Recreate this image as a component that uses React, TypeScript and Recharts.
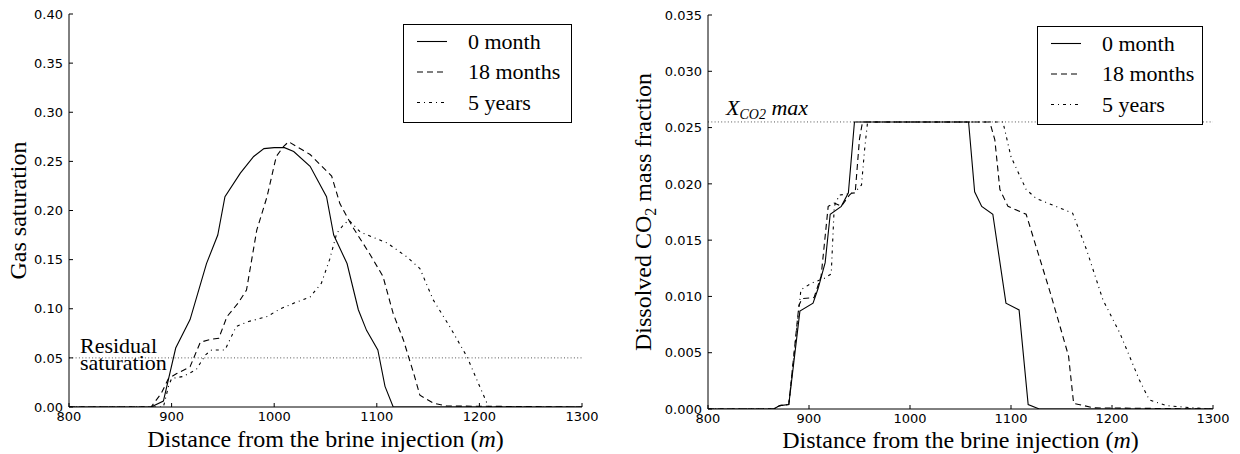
import { LineChart, Line, XAxis, YAxis, ReferenceLine, Legend } from "recharts";
import type { ReactNode } from "react";

// distance along the aquifer (m) and gas saturation, one pair per snapshot
const gasDist0 = [800, 880, 892, 904, 918, 934, 945, 952, 967, 980, 990, 1000, 1010, 1019, 1035, 1051, 1058, 1071, 1082, 1090, 1101, 1108, 1116, 1300];
const gasSat0 = [0, 0, 0.006, 0.06, 0.089, 0.146, 0.175, 0.214, 0.238, 0.255, 0.263, 0.264, 0.264, 0.26, 0.245, 0.214, 0.175, 0.146, 0.099, 0.078, 0.058, 0.021, 0, 0];

const gasDist18 = [800, 880, 890, 897, 905, 918, 928, 939, 946, 954, 965, 973, 983, 993, 1002, 1009, 1014, 1035, 1056, 1064, 1076, 1093, 1106, 1116, 1126, 1136, 1142, 1155, 1168, 1300];
const gasSat18 = [0, 0, 0.014, 0.029, 0.034, 0.041, 0.066, 0.069, 0.07, 0.092, 0.106, 0.119, 0.18, 0.214, 0.255, 0.265, 0.27, 0.257, 0.235, 0.207, 0.184, 0.156, 0.133, 0.095, 0.068, 0.034, 0.012, 0.004, 0.001, 0];

const gasDist60 = [800, 892, 897, 900, 911, 924, 933, 939, 952, 963, 975, 993, 1006, 1020, 1035, 1046, 1054, 1061, 1068, 1073, 1084, 1110, 1129, 1142, 1155, 1171, 1188, 1199, 1209, 1300];
const gasSat60 = [0, 0, 0.021, 0.029, 0.031, 0.038, 0.053, 0.058, 0.058, 0.082, 0.087, 0.092, 0.1, 0.106, 0.112, 0.126, 0.15, 0.177, 0.186, 0.19, 0.178, 0.167, 0.153, 0.141, 0.109, 0.082, 0.051, 0.024, 0, 0];

// dissolved CO2 mass fraction
const co2Dist0 = [800, 865, 871, 880, 891, 904, 909, 916, 921, 932, 939, 945, 1058, 1064, 1071, 1082, 1095, 1108, 1117, 1128, 1300];
const co2Frac0 = [0, 0, 0.0003, 0.0004, 0.0087, 0.0094, 0.0107, 0.013, 0.0173, 0.018, 0.0192, 0.0255, 0.0255, 0.0193, 0.018, 0.0173, 0.0094, 0.0088, 0.0004, 0, 0];

const co2Dist18 = [800, 865, 871, 880, 890, 893, 905, 912, 919, 925, 932, 940, 946, 950, 953, 1079, 1084, 1089, 1097, 1115, 1139, 1157, 1162, 1182, 1300];
const co2Frac18 = [0, 0, 0.0003, 0.0004, 0.0092, 0.0098, 0.0099, 0.0118, 0.018, 0.0183, 0.018, 0.019, 0.0195, 0.024, 0.0255, 0.0255, 0.0239, 0.0195, 0.018, 0.0173, 0.0103, 0.0047, 0.0005, 0.0001, 0];

const co2Dist60 = [800, 865, 871, 880, 892, 903, 915, 922, 925, 930, 945, 952, 955, 958, 1092, 1100, 1115, 1125, 1161, 1175, 1191, 1208, 1227, 1237, 1254, 1280, 1300];
const co2Frac60 = [0, 0, 0.0003, 0.0004, 0.0106, 0.0112, 0.0116, 0.012, 0.018, 0.019, 0.0192, 0.0199, 0.023, 0.0255, 0.0255, 0.0224, 0.0195, 0.0187, 0.0174, 0.0141, 0.0097, 0.0067, 0.0026, 0.0008, 0.0003, 0.0001, 0];

const xTicks = [800, 900, 1000, 1100, 1200, 1300];
const gasTicks = [0, 0.05, 0.1, 0.15, 0.2, 0.25, 0.3, 0.35, 0.4];
const co2Ticks = [0, 0.005, 0.01, 0.015, 0.02, 0.025, 0.03, 0.035];
const residualSaturation = 0.05;
const co2Max = 0.0255;
const seriesNames = ["0 month", "18 months", "5 years"];

const SERIF = "'Liberation Serif', 'Times New Roman', serif";
const SANS = "'DejaVu Sans', 'Liberation Sans', sans-serif";
const INK = "#000";
const TICK = 4;
const DASHES = [undefined, "6 4", "3 4 1 4"];

const serif = (size: number, italic = false) => ({ fontFamily: SERIF, fontSize: size, fontStyle: italic ? "italic" : "normal" });
const tickFont = { fontFamily: SANS, fontSize: 13 };

type Pt = { x: number; v: number };
const zip = (xs: number[], ys: number[]): Pt[] => xs.map((x, i) => ({ x, v: ys[i] }));

const gasSeries = [zip(gasDist0, gasSat0), zip(gasDist18, gasSat18), zip(gasDist60, gasSat60)];
const co2Series = [zip(co2Dist0, co2Frac0), zip(co2Dist18, co2Frac18), zip(co2Dist60, co2Frac60)];

// matplotlib-style ticks: short marks pointing into the plot on every side
const bottomTick = (p: any) => (
  <g>
    <line x1={p.x} y1={p.y} x2={p.x} y2={p.y - TICK} stroke={INK} />
    <text x={p.x} y={p.y + 14} textAnchor="middle" fill={INK} style={tickFont}>{p.payload.value}</text>
  </g>
);
const topTick = (p: any) => <line x1={p.x} y1={p.y} x2={p.x} y2={p.y + TICK} stroke={INK} />;
const rightTick = (p: any) => <line x1={p.x} y1={p.y} x2={p.x - TICK} y2={p.y} stroke={INK} />;
const leftTick = (digits: number) => (p: any) => (
  <g>
    <line x1={p.x} y1={p.y} x2={p.x + TICK} y2={p.y} stroke={INK} />
    <text x={p.x - 6} y={p.y} dy="0.36em" textAnchor="end" fill={INK} style={tickFont}>
      {Number(p.payload.value).toFixed(digits)}
    </text>
  </g>
);

function LegendBox({ width, height }: { width: number; height: number }) {
  return (
    <svg width={width} height={height} style={{ display: "block", fontFamily: SERIF }}>
      <rect x={0.5} y={0.5} width={width - 1} height={height - 1} fill="#fff" stroke={INK} />
      {seriesNames.map((name, i) => {
        const cy = 17.5 + i * 30.5;
        return (
          <g key={name}>
            <line x1={14} x2={44} y1={cy} y2={cy} stroke={INK} strokeWidth={1.1} strokeDasharray={DASHES[i]} />
            <text x={65} y={cy + 7} fill={INK} fontFamily={SERIF} fontSize={22} style={serif(22)}>{name}</text>
          </g>
        );
      })}
    </svg>
  );
}

interface PanelProps {
  series: Pt[][];
  yTicks: number[];
  digits: number;
  margin: { top: number; right: number; bottom: number; left: number };
  yAxisWidth: number;
  xAxisHeight: number;
  xLabelBaseline: number;
  yLabelBaseline: number;
  yLabel: ReactNode;
  refY: number;
  refLabel: (vb: any) => ReactNode;
  legend: { left: number; top: number; width: number; height: number };
}

function Panel(props: PanelProps) {
  const { series, yTicks, digits, margin, yAxisWidth, xAxisHeight, legend } = props;
  const yDomain = [yTicks[0], yTicks[yTicks.length - 1]];
  return (
    <LineChart width={620} height={454} margin={margin}>
      <XAxis
        dataKey="x" type="number" domain={[800, 1300]} ticks={xTicks} allowDataOverflow
        height={xAxisHeight} stroke={INK} tickLine={false} tickSize={0} tickMargin={0}
        tick={bottomTick}
        label={(lp: any) => {
          const vb = lp.viewBox;
          return (
            <text x={vb.x + vb.width / 2} y={vb.y + props.xLabelBaseline} textAnchor="middle" fill={INK} style={serif(24)}>
              Distance from the brine injection (<tspan style={serif(24, true)}>m</tspan>)
            </text>
          );
        }}
      />
      <XAxis
        xAxisId="top" orientation="top" dataKey="x" type="number" domain={[800, 1300]} ticks={xTicks}
        allowDataOverflow height={0} stroke={INK} tickLine={false} tickSize={0} tickMargin={0} tick={topTick}
      />
      <YAxis
        type="number" domain={yDomain} ticks={yTicks} allowDataOverflow width={yAxisWidth}
        stroke={INK} tickLine={false} tickSize={0} tickMargin={0} tick={leftTick(digits)}
        label={(lp: any) => {
          const vb = lp.viewBox;
          const cx = vb.x + props.yLabelBaseline;
          const cy = vb.y + vb.height / 2;
          return (
            <text x={cx} y={cy} transform={`rotate(-90 ${cx} ${cy})`} textAnchor="middle" fill={INK} style={serif(24)}>
              {props.yLabel}
            </text>
          );
        }}
      />
      <YAxis
        yAxisId="right" orientation="right" type="number" domain={yDomain} ticks={yTicks} allowDataOverflow
        width={0} stroke={INK} tickLine={false} tickSize={0} tickMargin={0} tick={rightTick}
      />
      <ReferenceLine y={props.refY} stroke="#555" strokeDasharray="1 2.3" label={(lp: any) => props.refLabel(lp.viewBox)} />
      {series.map((data, i) => (
        <Line
          key={seriesNames[i]} name={seriesNames[i]} data={data} dataKey="v" type="linear"
          stroke={INK} strokeWidth={1.1} strokeDasharray={DASHES[i]} dot={false} activeDot={false}
          isAnimationActive={false}
        />
      ))}
      <Legend
        layout="vertical" verticalAlign="middle" align="center"
        wrapperStyle={{ left: legend.left, top: legend.top, width: legend.width, height: legend.height, fontFamily: SERIF }}
        content={() => <LegendBox width={legend.width} height={legend.height} />}
      />
    </LineChart>
  );
}

export default function App() {
  return (
    <div style={{ position: "absolute", left: 0, top: 0, width: 1240, height: 454, background: "#fff", display: "flex" }}>
      <Panel
        series={gasSeries} yTicks={gasTicks} digits={2}
        margin={{ top: 14, right: 38, bottom: 0, left: 0 }} yAxisWidth={69} xAxisHeight={47}
        xLabelBaseline={40} yLabelBaseline={26}
        yLabel="Gas saturation"
        refY={residualSaturation}
        refLabel={(vb) => (
          <text x={vb.x + 11} y={vb.y - 5} fill={INK} style={serif(22)}>
            Residual
            <tspan x={vb.x + 11} dy={17}>saturation</tspan>
          </text>
        )}
        legend={{ left: 403, top: 24, width: 169, height: 99 }}
      />
      <Panel
        series={co2Series} yTicks={co2Ticks} digits={3}
        margin={{ top: 15, right: 27, bottom: 0, left: 0 }} yAxisWidth={88} xAxisHeight={45}
        xLabelBaseline={39} yLabelBaseline={31}
        yLabel={<>Dissolved CO<tspan style={{ fontSize: 16 }} dy={5}>2</tspan><tspan dy={-5}> mass fraction</tspan></>}
        refY={co2Max}
        refLabel={(vb) => (
          <text x={vb.x + 18} y={vb.y - 7} fill={INK} style={serif(22, true)}>
            X<tspan style={{ fontSize: 14 }} dy={4}>CO2</tspan><tspan dy={-4}> max</tspan>
          </text>
        )}
        legend={{ left: 417, top: 26, width: 166, height: 99 }}
      />
    </div>
  );
}
